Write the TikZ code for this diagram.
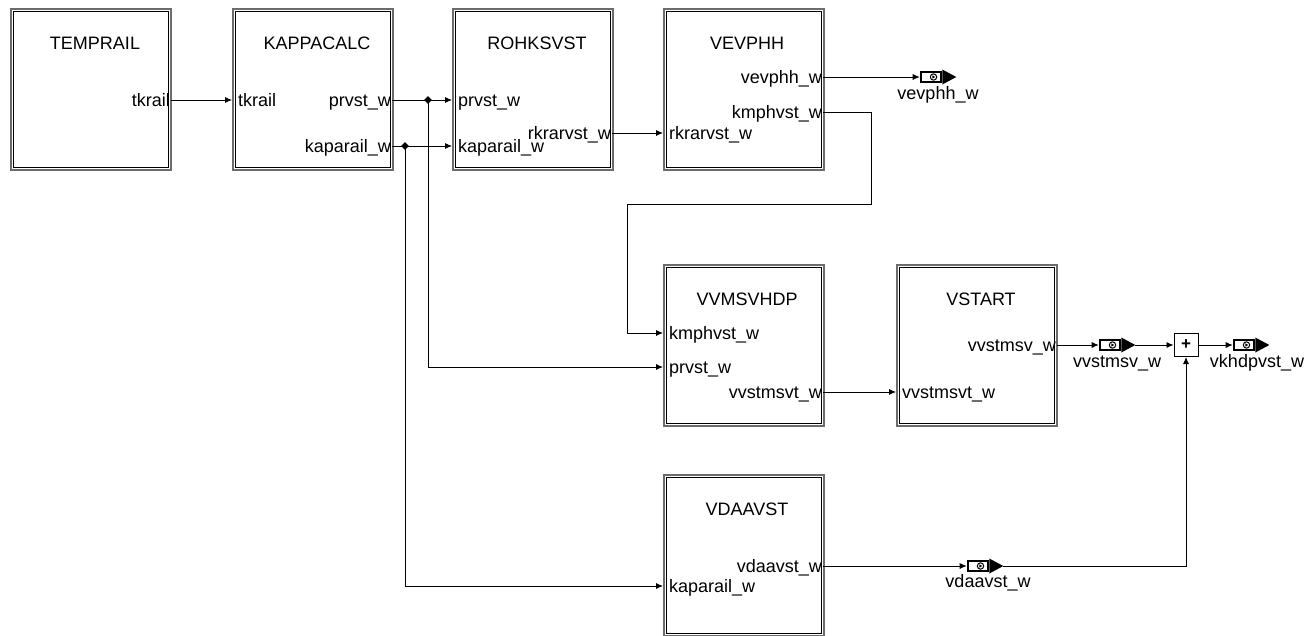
\documentclass[tikz,border=0pt]{standalone}
\usepackage{fontspec}
\setmainfont{Liberation Sans}
\usetikzlibrary{arrows.meta,shapes.geometric}
\newcommand\porttip[1]{%
  \fill ([yshift=7.5pt]#1.east) -- ([xshift=14pt]#1.east) -- ([yshift=-7.5pt]#1.east) -- cycle;
  \draw[line width=1pt] ([xshift=2.5pt]#1.center) circle (3.2pt);
  \fill ([xshift=1.3pt,yshift=1.7pt]#1.center) -- ([xshift=4.2pt]#1.center) -- ([xshift=1.3pt,yshift=-1.7pt]#1.center) -- cycle;
  \coordinate (#1-tip) at ([xshift=14pt]#1.east);}
\begin{document}
\begin{tikzpicture}[x=1pt,y=-1pt,
  font=\fontsize{18}{21}\selectfont,
  blk/.style={rectangle, draw=gray!85!black, line width=2.2pt, minimum width=160pt, minimum height=161pt,
    anchor=north west, inner sep=0,
    path picture={\draw[black,line width=0.9pt] ([shift={(2.2pt,-2.2pt)}]path picture bounding box.north west) rectangle ([shift={(-2.2pt,2.2pt)}]path picture bounding box.south east);}},
  ttl/.style={inner sep=0, anchor=center},
  inl/.style={inner sep=0, anchor=base west},
  outl/.style={inner sep=0, anchor=base east},
  wire/.style={draw=black, line width=0.8pt},
  arr/.style={wire, -{Latex[length=7pt,width=6pt]}},
  dot/.style={diamond, fill=black, inner sep=0, minimum size=8pt},
  port/.style={rectangle, draw=black, fill=white, line width=2.6pt, minimum width=20pt, minimum height=10pt, inner sep=0},
  plab/.style={inner sep=0, anchor=center},
  sumb/.style={rectangle, draw=black, line width=1pt, minimum width=24pt, minimum height=23pt, inner sep=0, font=\fontsize{17}{17}\selectfont\bfseries}
]
\useasboundingbox (0,0) rectangle (1313,635);

% blocks
\node[blk] (temprail) at (10,8) {};
\node[ttl] (temprail-t) at (95,43) {TEMPRAIL};
\node[blk] (kappa) at (232,8) {};
\node[ttl] (kappa-t) at (317,43) {KAPPACALC};
\node[blk] (rohk) at (452,8) {};
\node[ttl] (rohk-t) at (537,43) {ROHKSVST};
\node[blk] (vevphh) at (663,8) {};
\node[ttl] (vevphh-t) at (747,43) {VEVPHH};
\node[blk] (vvms) at (663,264) {};
\node[ttl] (vvms-t) at (747,299) {VVMSVHDP};
\node[blk] (vstart) at (896,264) {};
\node[ttl] (vstart-t) at (981,299) {VSTART};
\node[blk] (vdaa) at (663,474) {};
\node[ttl] (vdaa-t) at (747,509) {VDAAVST};

% port labels
\node[outl] (l1) at (170,106.5) {tkrail};
\node[inl] (l2) at (238,106.5) {tkrail};
\node[outl] (l3) at (391,106.5) {prvst\_w};
\node[outl] (l4) at (391,152.5) {kaparail\_w};
\node[inl] (l5) at (458,106.5) {prvst\_w};
\node[inl] (l6) at (458,152.5) {kaparail\_w};
\node[outl] (l7) at (611,139.5) {rkrarvst\_w};
\node[inl] (l8) at (669,139.5) {rkrarvst\_w};
\node[outl] (l9) at (822,83.5) {vevphh\_w};
\node[outl] (l10) at (822,118.5) {kmphvst\_w};
\node[inl] (l11) at (669,339.5) {kmphvst\_w};
\node[inl] (l12) at (669,373.5) {prvst\_w};
\node[outl] (l13) at (822,398.5) {vvstmsvt\_w};
\node[inl] (l14) at (902,398.5) {vvstmsvt\_w};
\node[outl] (l15) at (1056,351.5) {vvstmsv\_w};
\node[outl] (l16) at (822,572.5) {vdaavst\_w};
\node[inl] (l17) at (669,592.5) {kaparail\_w};

% port coordinates
\coordinate (temprail-o) at (171,100);
\coordinate (kappa-i) at (232,100);
\coordinate (kappa-o1) at (392,100);
\coordinate (kappa-o2) at (392,146);
\coordinate (rohk-i1) at (452,100);
\coordinate (rohk-i2) at (452,146);
\coordinate (rohk-o) at (612,133);
\coordinate (vevphh-i) at (663,133);
\coordinate (vevphh-o1) at (823,77);
\coordinate (vevphh-o2) at (823,112);
\coordinate (vvms-i1) at (663,333);
\coordinate (vvms-i2) at (663,367);
\coordinate (vvms-o) at (823,392);
\coordinate (vstart-i) at (896,392);
\coordinate (vstart-o) at (1057,345);
\coordinate (vdaa-i) at (663,586);
\coordinate (vdaa-o) at (823,566);

% junctions
\node[dot] (j1) at (428,100) {};
\node[dot] (j2) at (405,146) {};

% output ports
\node[port] (p1) at (931,77) {};
\porttip{p1}
\node[plab] (p1l) at (938,95) {vevphh\_w};
\node[port] (p2) at (1110,345) {};
\porttip{p2}
\node[plab] (p2l) at (1117,363) {vvstmsv\_w};
\node[sumb] (sum) at (1186,345) {+};
\node[port] (p3) at (1244,345) {};
\porttip{p3}
\node[plab] (p3l) at (1257,363) {vkhdpvst\_w};
\node[port] (p4) at (978,566) {};
\porttip{p4}
\node[plab] (p4l) at (988,583) {vdaavst\_w};

% wires
\draw[arr] (temprail-o) -- (kappa-i);
\draw[arr] (kappa-o1) -- (rohk-i1);
\draw[arr] (kappa-o2) -- (rohk-i2);
\draw[arr] (rohk-o) -- (vevphh-i);
\draw[arr] (vevphh-o1) -- (p1.west);
\draw[arr] (vevphh-o2) -- (871,112) -- (871,204) -- (627,204) -- (627,333) -- (vvms-i1);
\draw[arr] (j1.center) -- (428,367) -- (vvms-i2);
\draw[arr] (vvms-o) -- (vstart-i);
\draw[arr] (j2.center) -- (405,586) -- (vdaa-i);
\draw[arr] (vstart-o) -- (p2.west);
\draw[arr] (p2-tip) -- (sum.west);
\draw[arr] (sum.east) -- (p3.west);
\draw[arr] (vdaa-o) -- (p4.west);
\draw[arr] (p4-tip) -- (1186,566) -- (sum.south);
\end{tikzpicture}
\end{document}
